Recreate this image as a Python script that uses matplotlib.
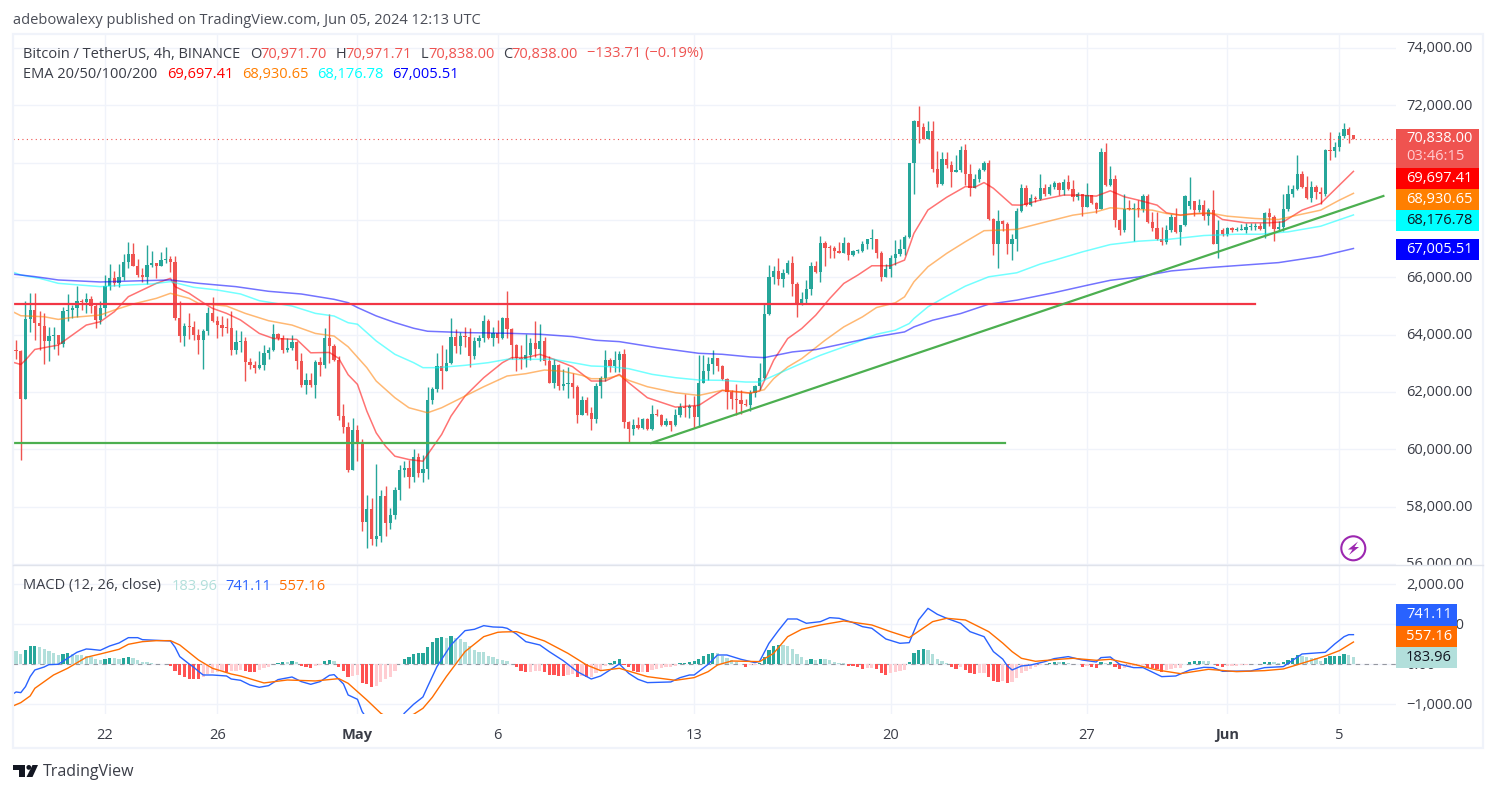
import numpy as np
import matplotlib
matplotlib.use('Agg')
from matplotlib import pyplot as plt
from matplotlib.patches import Rectangle, Circle, Polygon
from matplotlib.transforms import ScaledTranslation

plt.rcParams['font.family'] = ['Open Sans', 'DejaVu Sans']

W, H = 1496, 793

# bar numbers count 4h candles from May 1 00:00
first_bar = -73
first_open = 63480.0

closes = [
    63435,61756,64543,64858,64415,64298,63785,63948,63970,63668,
    64823,64858,64928,65172,65137,65242,64998,64508,64928,65697,
    65977,65814,66012,66537,66816,66397,66082,66012,66432,66502,
    66397,66607,66642,66537,64566,63948,64298,64275,63983,63808,
    64123,64753,64473,64333,64228,64216,63458,63738,63773,63039,
    62934,62829,62934,63353,63458,64018,63878,63458,63528,63738,
    63074,62234,62409,62234,63039,62934,63878,63598,63109,61150,
    60765,59261,60660,60194,57471,57925,56876,56981,58380,57436,
    57716,58590,59290,59360,59045,59744,59185,59325,61703,62088,
    62893,62718,62998,63907,63592,63942,63907,63243,63767,63872,
    64467,63872,64047,63872,64572,64187,63627,63173,63160,63278,
    63697,63487,63767,63068,62298,62928,62193,62263,62298,62158,
    61179,61703,61249,61039,62193,62473,63103,62893,63103,63313,
    60934,60689,60829,60724,61039,60689,61214,61179,60829,60969,
    60829,61179,61458,61435,61494,61140,62322,62718,62987,63173,
    62893,62439,61984,61739,61720,61564,61529,61949,62194,62474,
    64712,66006,66216,65937,66146,66496,65762,65097,65237,65587,
    66391,66181,67196,67021,67010,66916,66846,67196,66776,66916,
    66930,67161,67336,67345,66846,66006,66286,66671,66811,66986,
    67406,70002,71463,71253,70834,71114,69784,69260,70134,69924,
    69679,69749,70449,69609,69120,69435,69749,69994,68035,67161,
    67965,67860,67161,67336,68315,69120,68525,68764,68729,69114,
    68904,69149,69288,69044,69323,69079,68799,68904,68449,68869,
    68589,68379,70373,69218,69428,67994,67644,68379,68370,68402,
    68379,68834,67924,67714,67329,67225,67644,68099,67574,67819,
    68834,68659,68344,68519,68134,68344,67155,67668,67504,67714,
    67644,67656,67668,67749,67760,67784,67679,68239,68099,67679,
    67749,68379,68904,69079,69603,69149,68764,69149,68974,68904,
    70443,70420,70548,70933,71177,70971.70,70838.00,
]
highs = [
    63808,63458,65184,65441,65441,64823,64741,64263,64263,63983,
    64963,65406,65032,65697,65242,65441,65347,65067,65172,66082,
    66467,66222,66467,66816,67236,67201,66642,66327,67131,66921,
    66502,66886,67061,66747,66747,65172,64391,64753,64473,64193,
    64193,64951,65312,64648,64648,64578,64823,64158,64123,63913,
    63178,63073,63423,63633,63563,64368,64053,63983,63878,63983,
    63773,63353,62654,62654,63109,63213,64228,64718,63668,63249,
    61569,60940,61080,60835,60362,58415,58299,59500,58590,58707,
    57960,58695,59465,59605,59640,60024,59884,59815,62158,62158,
    63347,63627,63487,64572,64187,64082,64257,64222,63907,63977,
    64677,64537,64257,64502,64607,65516,64222,63662,63627,64012,
    63872,64467,64362,63907,63243,63138,62963,62788,62858,62648,
    62228,61843,61808,61458,62298,62543,63452,63173,63417,63417,
    63487,60969,61039,61109,61074,61074,61529,61389,61214,61074,
    60969,61389,61598,61913,61563,61855,63278,63278,63220,63453,
    63173,62928,62473,62054,62287,62054,61739,62054,62229,62998,
    65062,66426,66391,66671,66286,66601,66741,65832,65482,65902,
    66531,66566,67441,67266,67126,67091,67231,67406,67231,66951,
    66986,67266,67336,67686,67336,66916,66461,66776,67301,67336,
    67476,70002,71498,71988,71382,71463,71463,70414,70379,70379,
    70064,70274,70589,70659,69959,69609,69819,70064,70099,68070,
    68350,68000,67930,67511,68420,69260,69225,68904,68834,69603,
    69253,69253,69358,69323,69428,69568,69393,68974,68904,69288,
    68869,68624,70513,70688,69883,69568,68029,68904,68694,68589,
    68694,68904,68904,68274,68274,67749,67819,68204,68414,67819,
    68860,69498,68659,68729,68694,68414,69044,67994,67714,67749,
    67749,67749,67854,67889,67889,67889,67889,68274,68414,68169,
    67959,68904,69218,69218,70268,69708,69533,69358,69218,69149,
    70478,71072,70723,71072,71387,71247,70971.71,
]
lows = [
    63132,59611,61756,64100,63808,63458,62969,63085,63482,63283,
    63575,64484,64566,64601,64858,64764,64741,64240,64368,64648,
    65557,65697,65650,65907,66327,66397,66024,65837,65767,66362,
    65977,66397,66490,66187,64508,63738,63598,63843,63808,63318,
    62794,63983,64438,63878,63948,64053,63283,63318,63388,62374,
    62794,62654,62794,62759,63144,63423,63808,63353,63388,63458,
    62794,62164,61919,62164,61779,62549,62829,63004,63074,61010,
    60555,59191,59261,59575,57133,56561,56666,56631,56771,56958,
    57226,57576,58240,59045,58660,58870,59045,58870,58975,61564,
    61983,62088,62718,62963,63347,63312,63557,62858,63138,63557,
    63732,63837,63592,63720,63837,63872,63138,62718,62788,62858,
    63103,63208,63068,62928,62298,62123,62053,62053,61773,61773,
    60899,61179,61179,60654,60899,61773,62368,62683,62683,62683,
    60724,60234,60479,60689,60689,60654,60654,61144,60794,60794,
    60619,60794,61109,61132,61097,60747,60771,62299,62404,62613,
    62718,62404,61389,61389,61179,61214,61494,61331,61809,62054,
    62404,64677,65762,65727,65657,66111,65342,64607,65027,65097,
    65377,66135,65832,66391,66671,66671,66846,66846,66601,66741,
    66846,66881,66986,66986,66671,65867,66006,66006,66426,66741,
    66776,67371,68910,70694,70834,70834,69679,69155,69225,69819,
    69155,69679,69679,69225,68840,69120,69330,69714,68000,66776,
    66321,67616,66811,66601,66916,68280,68490,68484,68624,68694,
    68834,68869,69079,68869,68869,69044,68659,68694,68134,68449,
    68554,68239,68379,69183,69183,67749,67470,67574,68344,67260,
    68099,68274,67889,67609,67295,67120,67178,67574,67540,67120,
    67784,68379,68134,68274,67994,67819,67155,66665,67434,67434,
    67574,67609,67644,67539,67644,67644,67668,67364,67784,67260,
    67633,67609,68309,68799,69044,69114,68729,68624,68729,68554,
    68834,70093,70198,70408,70863,70688,70838.00,
]
# one candle opened away from the previous close
gap_opens = {178: 68484}

ema20_x = [-74,-72,-71,-69,-66,-64,-62,-58,-55,-52,-49,-46,-43,-40,-39,-36,-33,-31,-28,-25,-21,-18,-13,-10,-6,-4,-2,0,2,4,6,8,11,14,15,18,20,23,27,31,33,36,39,42,46,50,53,56,58,62,68,73,78,84,86,89,92,95,98,101,104,107,110,114,117,119,122,126,130,132,134,136,140,142,146,151,154,158,161,164,167,171,173,176,179,183,185,190,195,198,202,206,210,213]
ema20_y = [63050,62957,63110,63482,63575,63633,63866,64333,64449,64799,65324,65557,65790,65965,65674,65441,65114,64916,64741,64508,64041,63866,63832,63365,63377,63170,62600,62263,61330,60572,60106,59756,59640,59581,59815,60514,61155,61855,62496,63021,63196,63196,63312,63138,62881,62380,62380,62613,62321,61797,61470,61530,62054,61960,62030,63103,63861,64211,64677,65260,65785,66077,66403,66403,66601,67534,68350,68793,69166,69143,69306,69108,68525,68519,68694,68869,68869,68834,69020,68810,68694,68519,68251,68169,68227,68227,68017,67901,67901,67936,68344,68577,69218,69697.41]

ema50_x = [-74,-72,-67,-64,-61,-55,-52,-48,-43,-40,-36,-34,-28,-24,-19,-14,-9,-5,-2,2,4,8,11,15,18,23,27,32,36,40,44,48,50,53,56,58,62,68,73,78,84,87,89,92,95,100,104,108,111,115,117,119,122,126,130,134,138,141,146,153,158,161,165,170,173,176,182,186,192,197,201,206,210,213]
ema50_y = [64823,64659,64624,64531,64601,64683,64858,65067,65266,65441,65266,65091,64998,64741,64484,64333,64041,63948,63575,62846,62380,61797,61447,61272,61447,61855,62181,62555,62636,62764,62718,62578,62461,62461,62578,62403,62181,61972,61878,62054,61960,62077,62462,62870,63161,63803,64269,64619,64945,65109,65319,65843,66368,66834,67242,67627,67651,67674,67884,68169,68286,68426,68379,68344,68227,68169,68251,68134,68052,68017,68169,68344,68694,68930.65]

ema100_x = [-74,-72,-68,-64,-55,-49,-44,-40,-35,-30,-25,-21,-14,-9,-5,-2,0,4,8,12,14,17,23,28,32,38,42,46,50,54,58,63,68,73,78,83,86,90,94,99,103,107,111,115,118,119,122,126,130,135,141,146,149,155,161,167,173,181,188,193,199,206,213]
ema100_y = [66198,66082,65965,65790,65674,65732,65767,65849,65650,65557,65417,65184,64998,64741,64648,64415,64362,63779,63312,63021,62846,62846,62928,63021,63138,63138,63138,63021,62904,62881,62811,62613,62496,62415,62404,62345,62345,62637,62928,63278,63511,63745,64013,64153,64386,64561,64969,65342,65692,66018,66158,66461,66595,66886,67143,67260,67318,67458,67504,67504,67586,67784,68176.78]

ema200_x = [-74,-69,-64,-55,-48,-40,-34,-26,-19,-12,-5,-2,0,4,8,12,15,23,32,39,46,51,56,64,73,78,84,87,93,98,104,109,112,117,119,123,129,135,141,149,156,161,167,174,182,188,197,206,213]
ema200_y = [66117,66024,65907,65837,65872,65907,65790,65674,65511,65417,65231,65114,64945,64653,64420,64222,64117,64070,64047,64012,63930,63802,63755,63546,63347,63313,63220,63196,63395,63476,63686,63861,63954,64094,64269,64502,64735,65062,65202,65464,65720,65895,66012,66222,66338,66408,66513,66735,67005.51]

macd_x = [-74,-73,-72,-71,-70,-69,-67,-66,-64,-62,-60,-58,-57,-55,-53,-51,-49,-47,-46,-43,-40,-39,-38,-36,-35,-34,-33,-31,-28,-27,-25,-23,-21,-19,-17,-14,-12,-10,-8,-6,-5,-3,-2,0,1,2,5,8,10,12,14,15,17,20,23,25,27,29,31,32,34,36,39,41,44,47,50,52,56,58,60,62,67,69,71,72,75,77,79,82,85,86,88,90,92,94,96,99,101,103,106,108,110,113,116,118,120,122,124,126,129,131,134,136,138,139,140,142,144,147,149,152,155,158,159,161,163,166,168,172,175,178,181,183,185,191,194,198,202,207,209,211,212,213]
macd_y = [-766,-691,-708,-558,-308,-142,-67,-8,0,150,300,383,375,350,458,533,666,666,616,600,583,425,192,8,-75,-175,-267,-267,-292,-367,-400,-516,-575,-533,-383,-317,-433,-500,-433,-275,-258,-491,-766,-875,-1183,-1350,-1724,-1640,-1225,-1000,-816,-558,-58,483,841,875,966,933,925,900,758,566,483,317,92,-183,-367,-292,8,-225,-375,-458,-441,-333,-267,-267,0,233,233,125,42,75,525,841,1133,1133,1025,1066,1166,1150,1041,941,900,633,525,541,1108,1399,1250,1150,1025,816,691,317,130,-42,-142,-42,-17,67,142,192,108,58,167,183,0,-83,-83,-308,-292,-142,-75,-83,-175,-167,-83,-58,258,300,508,691,741,741.11]

signal_x = [-74,-72,-70,-69,-65,-62,-58,-55,-51,-49,-46,-43,-40,-38,-34,-31,-27,-25,-20,-15,-9,-4,-2,2,5,8,12,14,16,19,23,27,30,31,34,40,45,49,52,56,62,68,72,75,77,80,86,89,92,95,99,104,110,114,118,123,126,130,135,138,140,142,145,150,153,158,161,166,171,176,182,188,194,198,202,207,210,213]
signal_y = [-1058,-958,-791,-600,-267,-100,175,258,375,500,566,591,591,483,108,-100,-242,-292,-466,-392,-416,-358,-475,-891,-1225,-1433,-1250,-1100,-825,-308,317,691,800,808,816,583,275,-17,-158,-100,-308,-400,-333,-183,-17,83,67,275,691,875,983,1083,983,816,666,1066,1150,1108,816,530,317,150,75,125,150,100,125,0,-142,-233,-125,-183,-158,-117,25,208,342,557.16]

macd_hist = [
    333,258,358,458,466,425,375,333,283,233,258,275,250,242,233,217,175,133,108,142,
    158,150,133,167,183,150,108,58,50,25,12,8,4,
    -42,-158,-275,-308,-367,-371,-375,-325,-242,-208,-183,-158,-192,-167,-158,-142,-175,-183,-192,-142,
    -100,-58,4,42,58,54,83,50,-42,-75,-92,-42,-25,83,108,92,-67,-167,-317,-283,
    -275,-475,-500,-567,-550,-442,-375,-308,-175,8,133,192,258,283,292,425,550,658,683,658,
    708,650,633,558,458,358,317,300,217,175,125,
    100,75,4,-75,-167,-192,-183,-175,-167,-192,
    -267,-275,-292,-300,-258,-250,-308,-300,-325,-317,
    -225,-167,-42,25,83,133,-25,-75,-167,-200,
    -192,-200,-142,-108,-100,-75,-58,-42,25,42,
    67,83,133,208,258,283,275,208,158,108,
    58,8,-58,-25,-17,25,175,350,450,483,
    475,450,383,258,175,108,133,108,133,125,
    108,67,33,25,-33,-50,-75,-108,-100,-96,
    -125,-217,-267,-225,-200,-175,-142,58,275,358,
    383,358,258,133,83,33,-67,-108,-75,-142,
    -225,-233,-217,-208,-308,-425,-442,-417,-458,-442,
    -333,-208,-158,-108,-58,-17,17,42,67,58,
    67,42,17,8,-58,-33,-58,-83,50,25,
    58,-58,-125,-83,-75,-42,-17,-8,-92,-100,
    -125,-192,-142,-108,-104,-83,8,58,83,87,
    75,71,-4,-42,-58,-50,-42,-33,-25,-21,
    -4,8,12,58,62,50,42,58,108,150,
    225,208,175,150,146,92,158,200,208,217,
    258,233,183.96,
]

resistance_level = 65068
support_level = 60216
support_end = 138.4
resistance_end = 192
trend_x = [62.8, 219.4]
trend_y = [60216, 68838]

tick_bars = [-54, -30, 0, 30, 72, 114, 156, 186, 210]
tick_names = ['22', '26', 'May', '6', '13', '20', '27', 'Jun', '5']
price_ticks = [56000, 58000, 60000, 62000, 64000, 66000, 68000, 70000, 72000, 74000]
# these two sit fully behind the value tags
covered_ticks = [68000, 70000]
macd_ticks = [-1000, 0, 1000, 2000]

assert len(closes) == len(highs) == len(lows) == len(macd_hist) == 287

bars = np.arange(first_bar, first_bar + len(closes))
closes = np.array(closes, dtype=float)
highs = np.array(highs, dtype=float)
lows = np.array(lows, dtype=float)
opens = np.r_[first_open, closes[:-1]]
for b, val in gap_opens.items():
    opens[b - first_bar] = val

UP = '#26a69a'
DOWN = '#ef5350'
GRID = '#f0f3fa'
TEXT = '#3a3d47'
FONT = 10.55


def hist_colour(hist):
    # same four shade logic as the MACD indicator
    cols = []
    prev = hist[0]
    for v in hist:
        if v >= 0:
            cols.append('#26a69a' if v > prev else '#b2dfdb')
        else:
            cols.append('#ff5252' if v < prev else '#ffcdd2')
        prev = v
    return cols


def pane(x0, y0, x1, y1):
    return fig.add_axes([x0 / W, 1 - y1 / H, (x1 - x0) / W, (y1 - y0) / H])


fig = plt.figure(figsize=(W / 100, H / 100), dpi=100, facecolor='white')
nudge_up = ScaledTranslation(0, 0.8 / 72, fig.dpi_scale_trans)

# price pane
ax = pane(13, 34, 1396, 565.3)
ax.set_xlim(-73.67, 222.1)
ax.set_ylim(55948, 74492)
ax.set_xticks(tick_bars)
ax.set_yticks(price_ticks)
ax.set_yticklabels(['' if p in covered_ticks else f'{p:,.2f}' for p in price_ticks])
ax.yaxis.tick_right()
ax.tick_params(axis='y', length=0, pad=7.4, labelsize=FONT, labelcolor=TEXT)
ax.tick_params(axis='x', length=0, labelbottom=False)
for lab in ax.get_yticklabels():
    lab.set_transform(lab.get_transform() + nudge_up)
ax.grid(True, color=GRID, linewidth=1)
ax.set_axisbelow(True)
for s in ax.spines.values():
    s.set_visible(False)

colors = [UP if c >= o else DOWN for o, c in zip(opens, closes)]
ax.vlines(bars, lows, highs, colors=colors, linewidth=1, zorder=2)
body_low = np.minimum(opens, closes)
body_height = np.maximum(np.abs(closes - opens), 35)
ax.bar(bars, body_height, bottom=body_low, width=0.7, color=colors, linewidth=0, zorder=3)

ax.plot(ema20_x, ema20_y, color='#ff0000', alpha=0.55, linewidth=1.1, zorder=4)
ax.plot(ema50_x, ema50_y, color='#ff7f00', alpha=0.55, linewidth=1.1, zorder=4)
ax.plot(ema100_x, ema100_y, color='#00ffff', alpha=0.55, linewidth=1.1, zorder=4)
ax.plot(ema200_x, ema200_y, color='#0000ff', alpha=0.55, linewidth=1.1, zorder=4)

ax.axhline(closes[-1], color=DOWN, linewidth=0.8, linestyle=(0, (1, 3)), zorder=4)

# hand drawn levels
ax.plot([ax.get_xlim()[0], resistance_end], [resistance_level] * 2, color='#f23645', linewidth=1.6, zorder=5)
ax.plot([ax.get_xlim()[0], support_end], [support_level] * 2, color='#4caf50', linewidth=1.6, zorder=5)
ax.plot(trend_x, trend_y, color='#4caf50', linewidth=1.6, zorder=5)

# MACD pane
ax2 = pane(13, 566, 1396, 714)
ax2.set_xlim(-73.67, 222.1)
ax2.set_ylim(-1242, 2457)
ax2.set_xticks(tick_bars)
ax2.set_xticklabels(tick_names)
ax2.set_yticks(macd_ticks)
ax2.set_yticklabels([f'{t:,.2f}'.replace('-', '\u2212') for t in macd_ticks])
ax2.yaxis.tick_right()
ax2.tick_params(axis='y', length=0, pad=7.4, labelsize=FONT, labelcolor=TEXT)
ax2.tick_params(axis='x', length=0, pad=10, labelsize=FONT, labelcolor=TEXT)
for lab in ax2.get_yticklabels():
    lab.set_transform(lab.get_transform() + nudge_up)
for lab in ax2.get_xticklabels():
    if lab.get_text() in ('May', 'Jun'):
        lab.set_fontweight('bold')
ax2.grid(True, color=GRID, linewidth=1)
ax2.set_axisbelow(True)
for s in ax2.spines.values():
    s.set_visible(False)

ax2.axhline(0, color='#9598a1', linewidth=0.8, linestyle=(0, (4, 4)), zorder=1)
ax2.bar(bars, macd_hist, width=0.7, color=hist_colour(macd_hist), linewidth=0, zorder=2)
ax2.plot(macd_x, macd_y, color='#2962ff', linewidth=1.0, zorder=3)
ax2.plot(signal_x, signal_y, color='#ff6d00', linewidth=1.0, zorder=3)

# everything that sits on top of the panes, in pixel units
ov = fig.add_axes([0, 0, 1, 1], zorder=5)
ov.set_xlim(0, W)
ov.set_ylim(H, 0)
ov.axis('off')


def label(x, y, s, color=TEXT, size=FONT, **kw):
    ov.text(x, y, s, color=color, fontsize=size, va='center', ha=kw.pop('ha', 'left'), **kw)


def price_box(y0, y1, x1, face, s, color='white', y_text=None):
    ov.add_patch(Rectangle((1396, y0), x1 - 1396, y1 - y0, facecolor=face, edgecolor='none', zorder=3))
    label(1406, (y0 + y1) / 2 if y_text is None else y_text, s, color=color, zorder=4)


# frame
ov.add_patch(Rectangle((13, 34), 1470, 714, fill=False, edgecolor=GRID, linewidth=1.6))
ov.plot([13, 1483], [565.3, 565.3], color='#e0e3eb', linewidth=1)
ov.add_patch(Rectangle((1397, 566), 85, 12, facecolor='white', edgecolor='none', zorder=1))

# header and legends
label(13, 20, 'adebowalexy published on TradingView.com, Jun 05, 2024 12:13 UTC', color='#4a4d57')
label(23, 54, 'Bitcoin / TetherUS, 4h, BINANCE')
for x, s in [(250, 'O'), (336, 'H'), (421, 'L'), (503, 'C')]:
    label(x, 54, s)
for x, s in [(260, '70,971.70'), (345, '70,971.71'), (428, '70,838.00'), (511, '70,838.00'), (587, '\u2212133.71 (\u22120.19%)')]:
    label(x, 54, s, color=DOWN)
label(23, 75, 'EMA 20/50/100/200')
for x, s, c in [(167, '69,697.41', '#ff0000'), (242, '68,930.65', '#ff7f00'), (317, '68,176.78', '#00ffff'), (392, '67,005.51', '#0000ff')]:
    label(x, 75, s, color=c)
label(23, 586, 'MACD (12, 26, close)')
for x, s, c in [(172, '183.96', '#b2dfdb'), (225, '741.11', '#2962ff'), (279, '557.16', '#ff6d00')]:
    label(x, 586, s, color=c)

# value tags on the right scale
price_box(129.3, 168.3, 1479, DOWN, '70,838.00', y_text=139)
label(1406, 157, '03:46:15', color='#ffcdd2', zorder=4)
price_box(168.3, 189.3, 1479, '#ff0000', '69,697.41')
price_box(189.3, 210, 1479, '#ff7f00', '68,930.65')
price_box(210, 231, 1479, '#00ffff', '68,176.78', color='#131722')
price_box(239, 260, 1479, '#0000ff', '67,005.51')
price_box(604, 625.5, 1457, '#2962ff', '741.11')
price_box(625.5, 647, 1457, '#ff6d00', '557.16')
price_box(647, 668, 1457, '#b2dfdb', '183.96', color='#131722')

# bolt badge
ov.add_patch(Circle((1353.3, 548.3), 12, fill=False, edgecolor='#9c27b0', linewidth=1.5))
ov.add_patch(Polygon([(1358, 541.5), (1348, 549.5), (1352.5, 549.5), (1349, 555), (1359, 547), (1354.5, 547)],
                     closed=True, facecolor='#9c27b0', edgecolor='none'))

# TradingView mark
logo = '#131722'
ov.add_patch(Polygon([(13, 765), (25.5, 765), (25.5, 777), (19.5, 777), (19.5, 770), (13, 770)], closed=True, facecolor=logo, edgecolor='none'))
ov.add_patch(Circle((28.8, 767.4), 2.4, facecolor=logo, edgecolor='none'))
ov.add_patch(Polygon([(32.5, 765), (38, 765), (32.5, 777), (26.5, 777)], closed=True, facecolor=logo, edgecolor='none'))
label(43, 771.5, 'TradingView', color='#3a3d47', size=11.5)

fig.savefig('out.png', dpi=100, facecolor='white')
